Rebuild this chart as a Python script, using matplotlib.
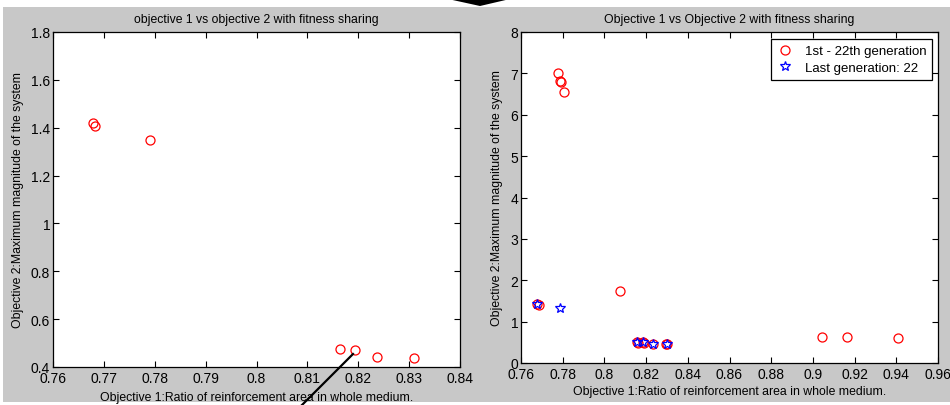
import numpy as np
import matplotlib
matplotlib.use("Agg")
import matplotlib.pyplot as plt
from matplotlib.lines import Line2D
from matplotlib.patches import Rectangle, Polygon

plt.rcParams['font.family'] = ['Liberation Sans', 'DejaVu Sans']

# left plot: fitness sharing front
left_x = [0.7679, 0.7683, 0.7790, 0.8164, 0.8194, 0.8237, 0.8310]
left_y = [1.420, 1.407, 1.349, 0.475, 0.471, 0.442, 0.438]

# right plot: all generations (red circles)
all_x = [0.7778, 0.7785, 0.7790, 0.7805, 0.8075, 0.7678, 0.7685,
         0.8157, 0.8163, 0.8187, 0.8191, 0.8232, 0.8297, 0.8302,
         0.9043, 0.9165, 0.9408]
all_y = [7.02, 6.82, 6.80, 6.56, 1.75, 1.42, 1.41,
         0.50, 0.49, 0.50, 0.49, 0.47, 0.46, 0.45,
         0.62, 0.62, 0.60]

# right plot: last generation (blue stars)
last_x = [0.7678, 0.7787, 0.8155, 0.8187, 0.8232, 0.8299]
last_y = [1.42, 1.34, 0.50, 0.50, 0.47, 0.46]

left_xticks = [0.76, 0.77, 0.78, 0.79, 0.80, 0.81, 0.82, 0.83, 0.84]
left_xlabels = ['0.76', '0.77', '0.78', '0.79', '0.8', '0.81', '0.82', '0.83', '0.84']
left_yticks = [0.4, 0.6, 0.8, 1.0, 1.2, 1.4, 1.6, 1.8]
left_ylabels = ['0.4', '0.6', '0.8', '1', '1.2', '1.4', '1.6', '1.8']

right_xticks = [0.76, 0.78, 0.80, 0.82, 0.84, 0.86, 0.88, 0.90, 0.92, 0.94, 0.96]
right_xlabels = ['0.76', '0.78', '0.8', '0.82', '0.84', '0.86', '0.88', '0.9', '0.92', '0.94', '0.96']
right_yticks = [0, 1, 2, 3, 4, 5, 6, 7, 8]

xlab = "Objective 1:Ratio of reinforcement area in whole medium."
ylab = "Objective 2:Maximum magnitude of the system"

W, H = 950, 406
fig = plt.figure(figsize=(W / 100, H / 100), dpi=100, facecolor='white')

# gray panel background
fig.patches.append(Rectangle((3 / W, 1 - 403 / H), 947 / W, 395 / H,
                             transform=fig.transFigure, facecolor='#c8c8c8',
                             edgecolor='none', zorder=-10))


def px_axes(x0, y0, x1, y1):
    return fig.add_axes([x0 / W, 1 - y1 / H, (x1 - x0) / W, (y1 - y0) / H])


def style(ax):
    ax.set_facecolor('white')
    for s in ax.spines.values():
        s.set_color('black')
        s.set_linewidth(0.9)
    ax.tick_params(direction='in', top=True, right=True, length=4,
                   width=0.8, labelsize=10, pad=2, colors='black')
    ax.tick_params(axis='x', pad=3)


ax1 = px_axes(53, 33, 460, 368)
style(ax1)
ax1.plot(left_x, left_y, 'o', mfc='none', mec='red', ms=6.5, mew=0.9)
ax1.set_xlim(0.76, 0.84)
ax1.set_ylim(0.4, 1.8)
ax1.set_xticks(left_xticks)
ax1.set_xticklabels(left_xlabels)
ax1.set_yticks(left_yticks)
ax1.set_yticklabels(left_ylabels)
ax1.set_title("objective 1 vs objective 2 with fitness sharing", fontsize=8.8, pad=7)
ax1.set_xlabel(xlab, fontsize=8.8, labelpad=4)
ax1.set_ylabel(ylab, fontsize=8.8, labelpad=5)

ax2 = px_axes(521, 33, 938, 364)
style(ax2)
ax2.plot(all_x, all_y, 'o', mfc='none', mec='red', ms=6.5, mew=0.9,
         label='1st - 22th generation')
ax2.plot(last_x, last_y, '*', mfc='none', mec='blue', ms=7, mew=0.9,
         label='Last generation: 22')
ax2.set_xlim(0.76, 0.96)
ax2.set_ylim(0, 8)
ax2.set_xticks(right_xticks)
ax2.set_xticklabels(right_xlabels)
ax2.set_yticks(right_yticks)
ax2.set_title("Objective 1 vs Objective 2 with fitness sharing", fontsize=8.8, pad=7)
ax2.set_xlabel(xlab, fontsize=8.8, labelpad=3)
ax2.set_ylabel(ylab, fontsize=8.8, labelpad=5)
leg = ax2.legend(loc='upper right', bbox_to_anchor=(0.986, 0.979), fontsize=9.5,
                 frameon=True, fancybox=False, framealpha=1, edgecolor='black',
                 borderaxespad=0, handlelength=1.2, handletextpad=0.9,
                 borderpad=0.45, labelspacing=0.35)
leg.get_frame().set_linewidth(0.9)

# annotation strokes from the source slide
fig.add_artist(Line2D([353 / W, 302 / W], [1 - 355 / H, 1 - 406 / H],
                      transform=fig.transFigure, color='black', lw=1.6))
fig.patches.append(Polygon([(448 / W, 1.0), (510 / W, 1.0), (480 / W, 1 - 7 / H)],
                           closed=True, transform=fig.transFigure,
                           facecolor='black', edgecolor='none'))

fig.savefig('out.png', dpi=100, facecolor=fig.get_facecolor())
